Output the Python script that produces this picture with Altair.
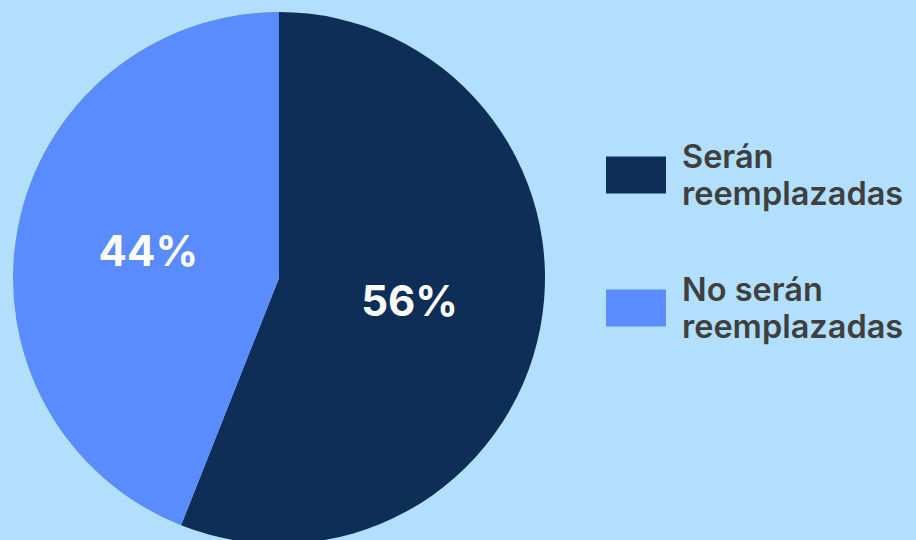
import altair as alt
import pandas as pd

categories = ["Serán reemplazadas", "No serán reemplazadas"]
values = [56, 44]
colors = ["#0e2d57", "#5a8bff"]

df = pd.DataFrame({
    "categoria": categories,
    "valor": values,
    "orden": list(range(len(categories))),
})
df["etiqueta"] = [f"{v}%" for v in values]

color_enc = alt.Color(
    "categoria:N",
    scale=alt.Scale(domain=categories, range=colors),
    sort=categories,
    legend=alt.Legend(
        title=None,
        orient="none",
        legendX=606,
        legendY=145,
        padding=0,
        symbolType="M-1,-0.62L1,-0.62L1,0.62L-1,0.62Z",
        symbolSize=3600,
        symbolStrokeWidth=0,
        symbolOpacity=1,
        labelFont="Inter",
        labelFontSize=32.5,
        labelFontWeight=600,
        labelColor="#3f3f3f",
        labelOffset=16,
        labelLimit=400,
        labelBaseline="bottom",
        rowPadding=63,
        labelExpr="[slice(datum.label, 0, indexof(datum.label, ' reemplazadas')), 'reemplazadas']",
    ),
)

base = alt.Chart(df).encode(
    theta=alt.Theta("valor:Q", stack=True),
    order=alt.Order("orden:Q"),
)

pie = base.mark_arc(radius=266, stroke=None).encode(
    color=color_enc,
    x=alt.value(279),
    y=alt.value(278),
)

text = base.mark_text(
    radius=133,
    font="Inter",
    fontSize=42,
    fontWeight=700,
    color="white",
    align="center",
    baseline="middle",
).encode(
    text="etiqueta:N",
    x=alt.value(279),
    y=alt.value(278),
)

chart = (
    alt.layer(pie, text)
    .properties(width=916, height=540, padding=0, background="#b3dffe", autosize="none")
    .configure(style={"guide-label": {"lineHeight": 37}})
    .configure_view(stroke=None)
)

chart.save("out.html", embed_options={"renderer": "svg", "actions": False})
